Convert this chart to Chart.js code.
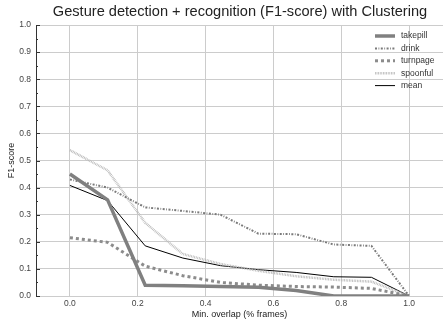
<!DOCTYPE html>
<html><head><meta charset="utf-8">
<script src="https://cdn.jsdelivr.net/npm/chart.js@4/dist/chart.umd.min.js"></script>
<style>html,body{margin:0;padding:0;background:#fff}#wrap{width:443px;height:320px}</style>
</head><body><div id="wrap"><canvas id="c" width="443" height="320"></canvas></div>
<script>
const overlaps = [0, 0.111, 0.222, 0.333, 0.444, 0.556, 0.667, 0.778, 0.889, 1.0];
const takepill = [0.45, 0.355, 0.04, 0.038, 0.035, 0.032, 0.02, 0.0, 0.0, 0.0];
const drink    = [0.43, 0.40, 0.327, 0.314, 0.30, 0.23, 0.228, 0.19, 0.185, 0.0];
const turnpage = [0.215, 0.198, 0.11, 0.075, 0.05, 0.04, 0.035, 0.033, 0.028, 0.0];
const spoonful = [0.538, 0.464, 0.27, 0.155, 0.118, 0.093, 0.073, 0.06, 0.053, 0.0];
const mean     = [0.408, 0.352, 0.185, 0.14, 0.112, 0.097, 0.087, 0.071, 0.069, 0.0];
const xTicks = [0.0, 0.2, 0.4, 0.6, 0.8, 1.0];
const titleText = 'Gesture detection + recognition (F1-score) with Clustering';

const pts = a => a.map((v,i)=>({x:overlaps[i], y:v}));
const FONT = '"Liberation Sans", Arial, sans-serif';

const datasets = [
  {label:'takepill', data:pts(takepill), borderColor:'#808080', borderWidth:3.5, borderDash:[]},
  {label:'drink', data:pts(drink), borderColor:'#7a7a7a', borderWidth:2, borderDash:[2,1.5,0.8,1.5]},
  {label:'turnpage', data:pts(turnpage), borderColor:'#8c8c8c', borderWidth:3, borderDash:[3,3]},
  {label:'spoonful', data:pts(spoonful), borderColor:'#b8b8b8', borderWidth:2.5, borderDash:[0.8,0.8]},
  {label:'mean', data:pts(mean), borderColor:'#000000', borderWidth:1, borderDash:[]}
].map(d=>Object.assign(d,{pointRadius:0, tension:0, fill:false, borderCapStyle:'butt'}));

const extras = {
  id:'extras',
  afterDraw(chart){
    const ctx = chart.ctx, ys = chart.scales.y, ca = chart.chartArea;
    ctx.save();
    ctx.fillStyle = '#222';
    ctx.font = '14.6px ' + FONT;
    ctx.textAlign = 'center'; ctx.textBaseline = 'middle';
    ctx.fillText(titleText, 240, 12);
    ctx.strokeStyle = '#333'; ctx.lineWidth = 1;
    for (let k=0;k<=20;k++){
      const v = k*0.05, py = Math.round(ys.getPixelForValue(v))+0.5;
      const len = (k%2===0)?4:2;
      ctx.beginPath(); ctx.moveTo(ca.left, py); ctx.lineTo(ca.left+len, py); ctx.stroke();
    }
    const lx0 = 375, lx1 = 395, tx = 401; let ly = 36;
    ctx.font = '8.5px ' + FONT; ctx.textAlign='left'; ctx.textBaseline='middle';
    chart.data.datasets.forEach(ds=>{
      ctx.strokeStyle = ds.borderColor; ctx.lineWidth = ds.borderWidth;
      ctx.setLineDash(ds.borderDash); ctx.lineCap='butt';
      ctx.beginPath(); ctx.moveTo(lx0, ly); ctx.lineTo(lx1, ly); ctx.stroke();
      ctx.setLineDash([]);
      ctx.fillStyle = '#333'; ctx.fillText(ds.label, tx, ly);
      ly += 12.4;
    });
    ctx.restore();
  }
};

new Chart(document.getElementById('c'), {
  type:'line',
  data:{datasets},
  plugins:[extras],
  options:{
    responsive:false, animation:false, devicePixelRatio:1,
    layout:{padding:{top:25, right:0, left:0, bottom:0}},
    plugins:{legend:{display:false}, title:{display:false}, tooltip:{enabled:false}},
    scales:{
      x:{type:'linear', min:-0.1, max:1.1,
        afterBuildTicks(s){ s.ticks = xTicks.map(v=>({value:v})); },
        afterFit(s){ s.height = 24; },
        grid:{color:'#cccccc', lineWidth:1, tickLength:0, drawTicks:false},
        border:{display:false},
        ticks:{padding:3, color:'#444', font:{family:FONT, size:8.5}, callback:v=>v.toFixed(1), maxRotation:0, autoSkip:false},
        title:{display:true, text:'Min. overlap (% frames)', color:'#222', font:{family:FONT, size:9}, padding:{top:0,bottom:0}}
      },
      y:{min:0, max:1,
        afterFit(s){ s.width = 36; },
        grid:{color:'#cccccc', lineWidth:1, tickLength:0, drawTicks:false},
        border:{display:true, color:'#333', width:1},
        ticks:{stepSize:0.1, padding:5, color:'#444', font:{family:FONT, size:8.5}, callback:v=>v.toFixed(1)},
        title:{display:true, text:'F1-score', color:'#222', font:{family:FONT, size:9}, padding:{top:6,bottom:0}}
      }
    }
  }
});
</script></body></html>
